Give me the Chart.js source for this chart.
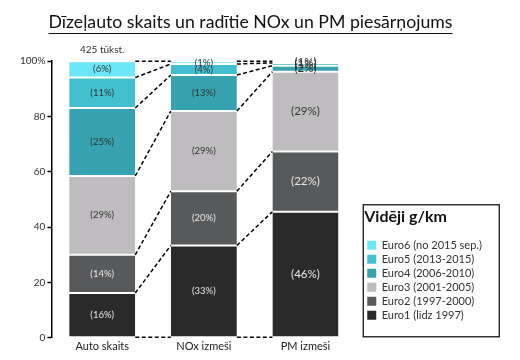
<!DOCTYPE html>
<html><head><meta charset="utf-8">
<script src="https://cdn.jsdelivr.net/npm/chart.js@4"></script>
<style>html,body{margin:0;padding:0;background:#fff}#wrap{width:520px;height:360px;position:relative}</style>
</head><body><div id="wrap"><canvas id="c"></canvas></div>
<script>
const categories = ['Auto skaits', 'NOx izmeši', 'PM izmeši'];
const seriesNames = ['Euro1 (līdz 1997)', 'Euro2 (1997-2000)', 'Euro3 (2001-2005)', 'Euro4 (2006-2010)', 'Euro5 (2013-2015)', 'Euro6 (no 2015 sep.)'];
const euro1 = [16.2, 33.4, 45.6];
const euro2 = [13.8, 19.6, 21.8];
const euro3 = [28.5, 29.0, 28.8];
const euro4 = [24.6, 13.0, 2.2];
const euro5 = [11.0, 4.0, 1.0];
const euro6 = [5.9, 1.0, 0.6];
const yTicks = [0, 20, 40, 60, 80, 100];
const totalNote = '425 tūkst.';
const chartTitle = 'Dīzeļauto skaits un radītie NOx un PM piesārņojums';
const legendTitle = 'Vidēji g/km';

const seriesValues = [euro1, euro2, euro3, euro4, euro5, euro6];
const seriesColors = ['#2a2a2a', '#58595b', '#bebcbe', '#37a2b0', '#43c0d0', '#6be6f7'];
const FONT = 'Lato, "Liberation Sans", sans-serif';
const TITLE_SIZE = 17.7;

const datasets = seriesNames.map((n, i) => ({
  label: n,
  data: seriesValues[i],
  backgroundColor: seriesColors[i],
  borderColor: '#ffffff',
  borderWidth: {top: 1, bottom: 1, left: 0, right: 0},
  borderSkipped: false
}));

const overlay = {
  id: 'overlay',
  afterLayout(chart) {
    // nudge the legend a little away from the plot, widen its clip box, re-centre the title
    if (chart.legend) { chart.legend.left += 8; chart.legend.right = chart.width - 2; }
    if (chart.titleBlock) { chart.titleBlock.left += 7; chart.titleBlock.right += 7; }
  },
  afterDatasetsDraw(chart) {
    const ctx = chart.ctx;
    const metas = chart.data.datasets.map((d, i) => chart.getDatasetMeta(i));
    ctx.save();
    ctx.setLineDash([4, 2.5]);
    ctx.strokeStyle = '#000';
    ctx.lineWidth = 1.5;
    for (let c = 0; c < categories.length - 1; c++) {
      const levels = [];
      const a0 = metas[0].data[c], b0 = metas[0].data[c + 1];
      levels.push([a0.base, b0.base]);
      metas.forEach(m => levels.push([m.data[c].y, m.data[c + 1].y]));
      const x1 = a0.x + a0.width / 2, x2 = b0.x - b0.width / 2;
      levels.forEach(([ya, yb]) => {
        ctx.beginPath();
        ctx.moveTo(x1, ya);
        ctx.lineTo(x2, yb);
        ctx.stroke();
      });
    }
    ctx.restore();
    ctx.save();
    ctx.textAlign = 'center';
    ctx.textBaseline = 'middle';
    const sizes = [9.5, 9.5, 11.5];
    metas.forEach((m, di) => {
      m.data.forEach((el, ci) => {
        const v = chart.data.datasets[di].data[ci];
        ctx.font = sizes[ci] + 'px ' + FONT;
        ctx.fillStyle = di < 2 ? '#e8e8e8' : '#333';
        ctx.fillText('(' + Math.round(v) + '%)', el.x, (el.y + el.base) / 2);
      });
    });
    const top = metas[metas.length - 1].data[0];
    ctx.font = '10px ' + FONT;
    ctx.fillStyle = '#333';
    ctx.fillText(totalNote, top.x, top.y - 11);
    ctx.restore();
  },
  afterDraw(chart) {
    const ctx = chart.ctx;
    const tb = chart.titleBlock;
    ctx.save();
    ctx.font = TITLE_SIZE + 'px ' + FONT;
    const w = ctx.measureText(chartTitle).width;
    const cx = (tb.left + tb.right) / 2;
    const cy = tb.top + 12 + TITLE_SIZE * 1.2 / 2;
    const uy = Math.round(cy + TITLE_SIZE * 0.6) + 0.5;
    ctx.strokeStyle = '#111';
    ctx.lineWidth = 1;
    ctx.beginPath();
    ctx.moveTo(cx - w / 2, uy);
    ctx.lineTo(cx + w / 2, uy);
    ctx.stroke();
    const lg = chart.legend;
    if (lg && lg.legendHitBoxes && lg.legendHitBoxes.length) {
      const hb = lg.legendHitBoxes.filter((h, i) => lg.legendItems[i] && lg.legendItems[i].text !== '');
      const l = Math.min(...hb.map(h => h.left)) - 4;
      const t = Math.min(...hb.map(h => h.top)) - 35;
      const b = Math.max(...hb.map(h => h.top + h.height)) + 16;
      ctx.strokeStyle = '#000';
      ctx.lineWidth = 1.2;
      ctx.strokeRect(l, t, 136, b - t);
    }
    ctx.restore();
  }
};

new Chart(document.getElementById('c'), {
  type: 'bar',
  data: {labels: categories, datasets},
  options: {
    responsive: true,
    maintainAspectRatio: false,
    animation: false,
    layout: {padding: {left: 18, right: 51, top: 0, bottom: 5}},
    datasets: {bar: {categoryPercentage: 1, barPercentage: 0.65}},
    scales: {
      x: {
        stacked: true,
        grid: {display: false, drawTicks: false},
        border: {display: false},
        ticks: {font: {size: 11, family: FONT}, color: '#222', padding: 2}
      },
      y: {
        stacked: true,
        min: yTicks[0], max: yTicks[yTicks.length - 1],
        ticks: {stepSize: yTicks[1] - yTicks[0], font: {size: 10, family: FONT}, color: '#333', padding: 2,
                callback: v => v === 100 ? v + '%' : String(v)},
        grid: {drawOnChartArea: false, tickLength: 4, color: '#000', tickWidth: 1.5},
        border: {display: true, color: '#000', width: 1.5}
      }
    },
    plugins: {
      title: {display: true, text: chartTitle, color: '#111',
              font: {size: TITLE_SIZE, family: FONT, weight: 'normal'},
              padding: {top: 12, bottom: 28}},
      legend: {
        position: 'right', align: 'end', reverse: true, fullSize: false,
        title: {display: true, text: legendTitle, position: 'start', color: '#111',
                font: {size: 16, weight: 'bold', family: FONT}, padding: {top: 6, bottom: 9}},
        labels: {
          boxWidth: 9, boxHeight: 9, padding: 3, color: '#333',
          font: {size: 11, family: FONT},
          generateLabels(chart) {
            const items = Chart.defaults.plugins.legend.labels.generateLabels(chart);
            items.forEach(it => { it.lineWidth = 0; it.strokeStyle = it.fillStyle; });
            // invisible spacer kept below the last entry (frame inner margin)
            items.unshift({text: '', fillStyle: 'rgba(0,0,0,0)', strokeStyle: 'rgba(0,0,0,0)', lineWidth: 0, hidden: false, datasetIndex: -1});
            return items;
          }
        }
      },
      tooltip: {enabled: false}
    }
  },
  plugins: [overlay]
});
</script></body></html>
